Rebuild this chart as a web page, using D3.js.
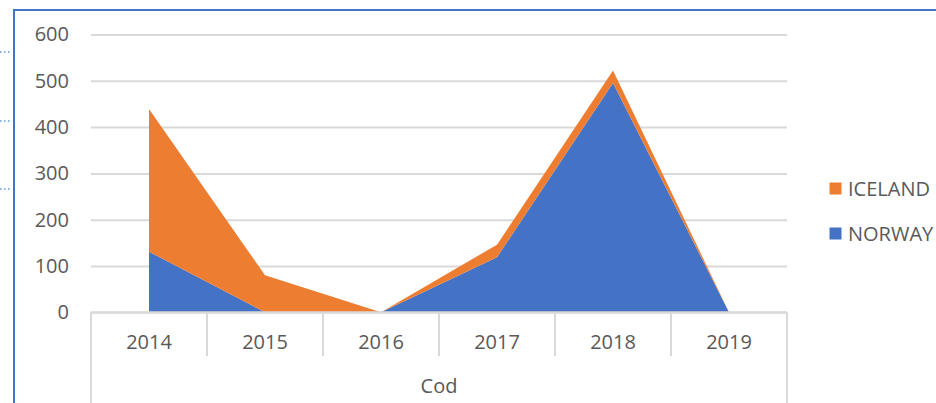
<!DOCTYPE html>
<html>
<head>
<meta charset="utf-8">
<script src="https://cdn.jsdelivr.net/npm/d3@7/dist/d3.min.js"></script>
<style>
  html, body { margin: 0; padding: 0; background: #fff; }
  svg { display: block; }
  text { font-family: "Open Sans", "Liberation Sans", sans-serif; fill: #595959; }
</style>
</head>
<body>
<svg id="chart" width="936" height="403"></svg>
<script>
// Cod catch by year, stacked area
const years = ["2014", "2015", "2016", "2017", "2018", "2019"];
const norway = [131, 0, 0, 119, 495, 0];
const iceland = [308, 80, 0, 27, 27, 0];
const seriesNames = ["NORWAY", "ICELAND"];
const seriesColors = ["#4472C4", "#ED7D31"];
const yTicks = [0, 100, 200, 300, 400, 500, 600];
const groupLabel = "Cod";

const svg = d3.select("#chart");
const W = 936, H = 403;
const fontSize = 20;

// plot area
const plot = { left: 91, right: 787, top: 34.5, bottom: 312.3 };

const x = d3.scaleBand().domain(years).range([plot.left, plot.right]);
const xc = d => x(d) + x.bandwidth() / 2;
const y = d3.scaleLinear().domain([0, 600]).range([plot.bottom, plot.top]);

// frame borders
svg.append("line").attr("x1", 14).attr("x2", 14).attr("y1", 9).attr("y2", H)
  .attr("stroke", "#4472C4").attr("stroke-width", 2);
svg.append("line").attr("x1", 13).attr("x2", W).attr("y1", 10).attr("y2", 10)
  .attr("stroke", "#4472C4").attr("stroke-width", 2);
[52, 121, 189].forEach(yy => {
  svg.append("line").attr("x1", 0).attr("x2", 12).attr("y1", yy).attr("y2", yy)
    .attr("stroke", "#5B9BD5").attr("stroke-width", 1.5).attr("stroke-dasharray", "1.5,2.5");
});

// horizontal gridlines
const yAxis = d3.axisLeft(y).tickValues(yTicks).tickSize(-(plot.right - plot.left)).tickPadding(22);
const gy = svg.append("g").attr("transform", `translate(${plot.left},0)`).call(yAxis);
gy.select(".domain").remove();
gy.selectAll(".tick line").attr("stroke", "#D9D9D9").attr("stroke-width", 2);
gy.selectAll(".tick text").attr("font-size", fontSize).style("fill", "#595959")
  .attr("font-family", "'Open Sans', sans-serif");

// stacked areas
const rows = years.map((yr, i) => ({ year: yr, NORWAY: norway[i], ICELAND: iceland[i] }));
const stacked = d3.stack().keys(seriesNames)(rows);
const area = d3.area()
  .x(d => xc(d.data.year))
  .y0(d => y(d[0]))
  .y1(d => y(d[1]));
svg.append("g").selectAll("path").data(stacked).join("path")
  .attr("d", area)
  .attr("fill", (d, i) => seriesColors[i]);

// category axis with group box
const gx = svg.append("g");
gx.append("line").attr("x1", plot.left).attr("x2", plot.right).attr("y1", plot.bottom).attr("y2", plot.bottom)
  .attr("stroke", "#D9D9D9").attr("stroke-width", 2);
const boundaries = years.map(d => x(d)).concat([plot.right]);
boundaries.forEach((bx, i) => {
  const outer = i === 0 || i === boundaries.length - 1;
  gx.append("line").attr("x1", bx).attr("x2", bx).attr("y1", plot.bottom)
    .attr("y2", outer ? H : 356)
    .attr("stroke", "#D9D9D9").attr("stroke-width", 2);
});
gx.selectAll("text.year").data(years).join("text")
  .attr("class", "year")
  .attr("x", d => xc(d)).attr("y", 349)
  .attr("text-anchor", "middle").attr("font-size", fontSize)
  .text(d => d);
gx.append("text").attr("x", (plot.left + plot.right) / 2).attr("y", 393)
  .attr("text-anchor", "middle").attr("font-size", fontSize).text(groupLabel);

// legend
const legendOrder = ["ICELAND", "NORWAY"];
const legY = [188, 233];
legendOrder.forEach((name, i) => {
  const c = seriesColors[seriesNames.indexOf(name)];
  svg.append("rect").attr("x", 829.5).attr("y", legY[i] - 5.5).attr("width", 12).attr("height", 12)
    .attr("fill", c);
  svg.append("text").attr("x", 848).attr("y", legY[i] + 7.5).attr("font-size", fontSize).text(name);
});
</script>
</body>
</html>
